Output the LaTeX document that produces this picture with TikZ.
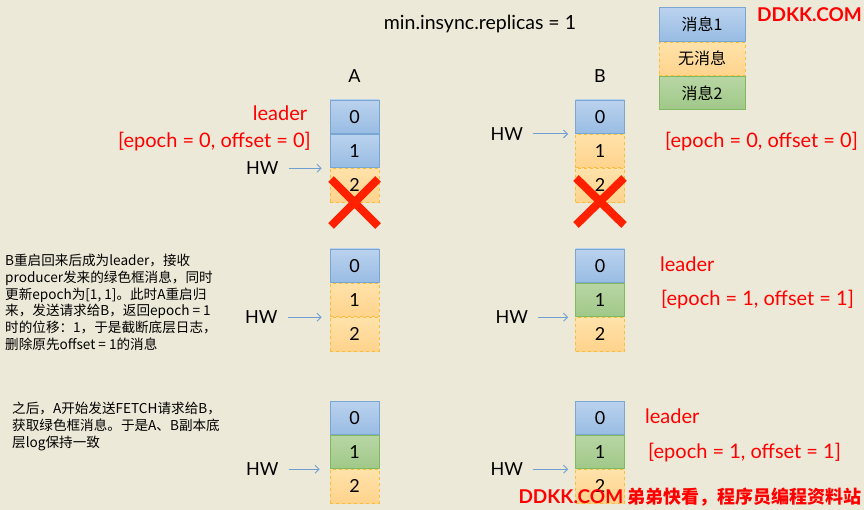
\documentclass[tikz,border=0pt]{standalone}
\usepackage{fontspec}
\setmainfont{Lato}
\newfontfamily\cjk{Noto Sans CJK SC}
\usepackage{xcolor}
\usetikzlibrary{arrows.meta,positioning}

\definecolor{bgcol}{RGB}{236,233,216}
\definecolor{bluetop}{RGB}{186,210,238}
\definecolor{bluebot}{RGB}{152,188,227}
\definecolor{blueline}{RGB}{122,166,212}
\definecolor{orgtop}{RGB}{255,226,170}
\definecolor{orgbot}{RGB}{255,211,140}
\definecolor{orgline}{RGB}{246,190,60}
\definecolor{grntop}{RGB}{184,214,164}
\definecolor{grnbot}{RGB}{160,200,136}
\definecolor{grnline}{RGB}{130,184,96}
\definecolor{hwblue}{RGB}{112,160,208}
\definecolor{markred}{RGB}{255,32,0}
\newcommand{\pxfont}[1]{\fontsize{#1}{#1}\selectfont}

\begin{document}
\begin{tikzpicture}[
    x=1pt, y=-1pt,
    node distance=0pt,
    blk/.style={draw, minimum width=49pt, minimum height=33.5pt, inner sep=0pt, line width=0.8pt, font=\pxfont{18}},
    msg1/.style={blk, top color=bluetop, bottom color=bluebot, draw=blueline},
    nomsg/.style={blk, top color=orgtop, bottom color=orgbot, draw=orgline, dashed},
    msg2/.style={blk, top color=grntop, bottom color=grnbot, draw=grnline},
    legend/.style={minimum width=86pt, font=\cjk\pxfont{16}},
    hw/.style={inner sep=0pt, font=\pxfont{18}},
    hwarr/.style={-{Straight Barb[length=4pt,width=8pt]}, hwblue, line width=0.9pt, shorten <=10pt},
    red/.style={inner sep=0pt, text=red, font=\pxfont{20}},
    xmark/.style={draw=markred, line width=8pt},
    note/.style={inner sep=0pt, align=left, font=\cjk\fontsize{13.6}{16.7}\selectfont},
]
\useasboundingbox (0,0) rectangle (864,510);
\fill[bgcol] (0,0) rectangle (864,510);

% Title and legend
\node (title) [inner sep=0pt, font=\pxfont{19.5}] at (480,24) {min.insync.replicas = 1};
\node (lg1) [msg1, legend] at (702,24.5) {消息1};
\node (lg2) [nomsg, legend, below=of lg1] {无消息};
\node (lg3) [msg2, legend, below=of lg2] {消息2};

% Row 1: A is leader, B follows
\node (a1_0) [msg1] at (354.5,116.75) {0};
\node (a1_1) [msg1, below=of a1_0] {1};
\node (a1_2) [nomsg, below=of a1_1] {2};
\node (b1_0) [msg1] at (600,116.75) {0};
\node (b1_1) [nomsg, below=of b1_0] {1};
\node (b1_2) [nomsg, below=of b1_1] {2};
\node (labA) [inner sep=0pt, font=\pxfont{18}, above=17pt of a1_0] {A};
\node (labB) [inner sep=0pt, font=\pxfont{18}, above=17pt of b1_0] {B};

\draw[xmark] (354.5,202.5) ++(-23.5,-23.5) -- ++(47,47) ++(0,-47) -- ++(-47,47);
\draw[xmark] (600,201.5) ++(-24,-23.5) -- ++(48,47) ++(0,-47) -- ++(-48,47);

\node (hwA1) [hw, left=51pt of a1_1.south west] {HW};
\node (hwB1) [hw, left=52pt of b1_0.south west] {HW};
\draw[hwarr] (hwA1) -- ([xshift=-8pt]a1_1.south west);
\draw[hwarr] (hwB1) -- ([xshift=-7pt]b1_0.south west);

\node (ldA1) [red] at (280,113) {leader};
\node (epA1) [red, anchor=east] at (311,142) {[epoch = 0, offset = 0]};
\node (epB1) [red, anchor=west] at (665,142) {[epoch = 0, offset = 0]};

% Row 2: B comes back as leader, A truncates
\node (a2_0) [msg1] at (354.5,265.75) {0};
\node (a2_1) [nomsg, below=of a2_0] {1};
\node (a2_2) [nomsg, below=of a2_1] {2};
\node (b2_0) [msg1] at (600,265.75) {0};
\node (b2_1) [msg2, below=of b2_0] {1};
\node (b2_2) [nomsg, below=of b2_1] {2};

\node (hwA2) [hw, left=52pt of a2_1.south west] {HW};
\node (hwB2) [hw, left=47pt of b2_1.south west] {HW};
\draw[hwarr] (hwA2) -- ([xshift=-8pt]a2_1.south west);
\draw[hwarr] (hwB2) -- ([xshift=-7pt]b2_1.south west);

\node (ldB2) [red, anchor=west] at (660,264) {leader};
\node (epB2) [red, anchor=west] at (661,300) {[epoch = 1, offset = 1]};

\node (note1) [note, anchor=north west] at (5,254) {B重启回来后成为leader，接收\\producer发来的绿色框消息，同时\\更新epoch为[1, 1]。此时A重启归\\来，发送请求给B，返回epoch = 1\\时的位移：1，于是截断底层日志，\\删除原先offset = 1的消息};

% Row 3: A fetches from B
\node (a3_0) [msg1] at (354.5,417.75) {0};
\node (a3_1) [msg2, below=of a3_0] {1};
\node (a3_2) [nomsg, below=of a3_1] {2};
\node (b3_0) [msg1] at (600,417.75) {0};
\node (b3_1) [msg2, below=of b3_0] {1};
\node (b3_2) [nomsg, below=of b3_1] {2};

\node (hwA3) [hw, left=51pt of a3_1.south west] {HW};
\node (hwB3) [hw, left=52pt of b3_1.south west] {HW};
\draw[hwarr] (hwA3) -- ([xshift=-10pt]a3_1.south west);
\draw[hwarr] (hwB3) -- ([xshift=-7pt]b3_1.south west);

\node (ldB3) [red, anchor=west] at (645,416) {leader};
\node (epB3) [red, anchor=west] at (648,453) {[epoch = 1, offset = 1]};

\node (note2) [note, anchor=north west] at (12,402) {之后，A开始发送FETCH请求给B，\\获取绿色框消息。于是A、B副本底\\层log保持一致};

% Watermarks
\node (wm1) [inner sep=0pt, text=red, font=\bfseries\pxfont{19}, anchor=east] at (862,15) {DDKK.COM};
\node (wm2) [inner sep=0pt, text=red, font=\bfseries\pxfont{19}, anchor=east] at (862,497) {DDKK.COM {\cjk\bfseries\pxfont{18}弟弟快看，程序员编程资料站}};
\end{tikzpicture}
\end{document}
